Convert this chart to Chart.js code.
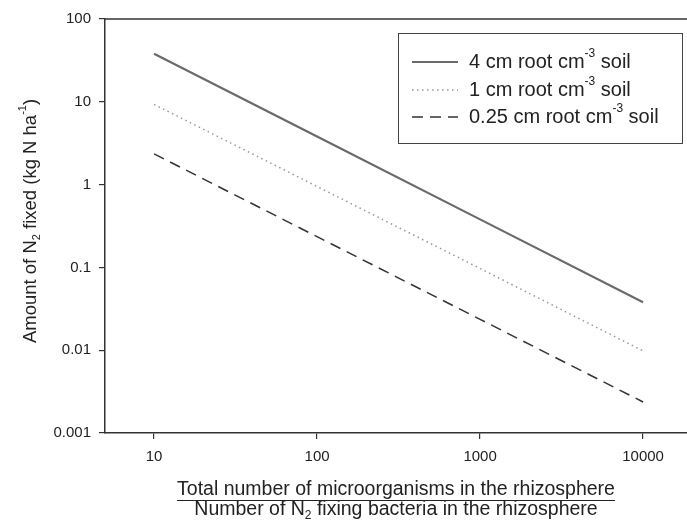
<!DOCTYPE html>
<html>
<head>
<meta charset="utf-8">
<script src="https://cdn.jsdelivr.net/npm/chart.js@4"></script>
<style>
  html, body { margin: 0; padding: 0; background: #fff; }
  canvas { display: block; }
</style>
</head>
<body>
<canvas id="chart" width="687" height="524"></canvas>
<script>
// values (log-log, slope about -1)
const xValues = [10, 100, 1000, 10000];
const root4 = [38, 3.8, 0.38, 0.038];
const root1 = [9.3, 0.95, 0.097, 0.0098];
const root025 = [2.35, 0.235, 0.0236, 0.00237];
const xTicks = [10, 100, 1000, 10000];
const yTicks = [0.001, 0.01, 0.1, 1, 10, 100];
const seriesLabels = [
  "4 cm root cm^{-3} soil",
  "1 cm root cm^{-3} soil",
  "0.25 cm root cm^{-3} soil",
];
const yTitle = "Amount of N_{2} fixed (kg N ha^{-1})";
const xTitleTop = "Total number of microorganisms in the rhizosphere";
const xTitleBottom = "Number of N_{2} fixing bacteria in the rhizosphere";

const FONT = "'Liberation Sans', Arial, sans-serif";
const INK = "#222";

function parseRich(str) {
  const parts = [];
  const re = /([\^_])\{([^}]*)\}/g;
  let last = 0;
  let m;
  while ((m = re.exec(str))) {
    if (m.index > last) parts.push({ text: str.slice(last, m.index), mode: "n" });
    parts.push({ text: m[2], mode: m[1] === "^" ? "sup" : "sub" });
    last = re.lastIndex;
  }
  if (last < str.length) parts.push({ text: str.slice(last), mode: "n" });
  return parts;
}

// draws text with ^{sup} and _{sub}; returns [startX, endX]
function drawRich(ctx, str, x, y, size, align) {
  const parts = parseRich(str);
  const small = Math.round(size * 0.62);
  let total = 0;
  parts.forEach((p) => {
    ctx.font = `${p.mode === "n" ? size : small}px ${FONT}`;
    p.w = ctx.measureText(p.text).width;
    total += p.w;
  });
  let cx = align === "center" ? x - total / 2 : x;
  const start = cx;
  ctx.textAlign = "left";
  ctx.textBaseline = "middle";
  parts.forEach((p) => {
    ctx.font = `${p.mode === "n" ? size : small}px ${FONT}`;
    let dy = 0;
    if (p.mode === "sup") dy = -size * 0.42;
    if (p.mode === "sub") dy = size * 0.3;
    ctx.fillText(p.text, cx, y + dy);
    cx += p.w;
  });
  return [start, cx];
}

const decorPlugin = {
  id: "decor",
  afterDraw(chart) {
    const { ctx, chartArea } = chart;
    ctx.save();
    // top frame line
    ctx.strokeStyle = "#333";
    ctx.lineWidth = 1.5;
    ctx.beginPath();
    ctx.moveTo(chartArea.left, chartArea.top);
    ctx.lineTo(chartArea.right, chartArea.top);
    ctx.stroke();

    ctx.fillStyle = INK;
    // y title
    ctx.save();
    ctx.translate(31, 221);
    ctx.rotate(-Math.PI / 2);
    drawRich(ctx, yTitle, 0, 0, 18.5, "center");
    ctx.restore();

    // x title, first line underlined like a fraction
    const cx = (chartArea.left + chartArea.right) / 2;
    const [s, e] = drawRich(ctx, xTitleTop, cx, 490, 19.5, "center");
    ctx.strokeStyle = INK;
    ctx.lineWidth = 1;
    ctx.beginPath();
    ctx.moveTo(s, 500.5);
    ctx.lineTo(e, 500.5);
    ctx.stroke();
    drawRich(ctx, xTitleBottom, cx, 510, 19.5, "center");

    // legend box
    const bx = 398, by = 33, bw = 284, bh = 110;
    ctx.fillStyle = "#fff";
    ctx.fillRect(bx, by, bw, bh);
    ctx.strokeStyle = "#444";
    ctx.lineWidth = 1;
    ctx.strokeRect(bx + 0.5, by + 0.5, bw, bh);
    const rows = [62, 90, 117];
    chart.data.datasets.forEach((ds, i) => {
      const ry = rows[i];
      ctx.strokeStyle = ds.borderColor;
      ctx.lineWidth = ds.borderWidth;
      ctx.setLineDash(ds.borderDash || []);
      ctx.beginPath();
      ctx.moveTo(412, ry);
      ctx.lineTo(458, ry);
      ctx.stroke();
      ctx.setLineDash([]);
      ctx.fillStyle = INK;
      drawRich(ctx, ds.label, 469, ry, 20, "left");
    });
    ctx.restore();
  },
};

const toPoints = (ys) => xValues.map((x, i) => ({ x, y: ys[i] }));

new Chart(document.getElementById("chart"), {
  type: "line",
  data: {
    datasets: [
      {
        label: seriesLabels[0],
        data: toPoints(root4),
        borderColor: "#6a6a6a",
        borderWidth: 2.2,
        pointRadius: 0,
      },
      {
        label: seriesLabels[1],
        data: toPoints(root1),
        borderColor: "#999",
        borderWidth: 1.5,
        borderDash: [1.5, 3.5],
        pointRadius: 0,
      },
      {
        label: seriesLabels[2],
        data: toPoints(root025),
        borderColor: "#333",
        borderWidth: 1.5,
        borderDash: [11, 7],
        pointRadius: 0,
      },
    ],
  },
  options: {
    responsive: false,
    animation: false,
    layout: { padding: { top: 19, right: 0, left: 0, bottom: 0 } },
    plugins: { legend: { display: false }, tooltip: { enabled: false } },
    scales: {
      x: {
        type: "logarithmic",
        min: 5,
        max: 18600,
        afterBuildTicks: (scale) => {
          scale.ticks = xTicks.map((v) => ({ value: v }));
        },
        afterFit: (scale) => {
          scale.height = 91;
        },
        grid: { drawOnChartArea: false, drawTicks: true, tickLength: 6, color: "#333", lineWidth: 1.2 },
        border: { display: true, color: "#333", width: 1.5 },
        ticks: {
          color: INK,
          font: { family: FONT, size: 15 },
          padding: 9,
          maxRotation: 0,
          autoSkip: false,
          callback: (v) => String(v),
        },
      },
      y: {
        type: "logarithmic",
        min: 0.001,
        max: 100,
        afterBuildTicks: (scale) => {
          scale.ticks = yTicks.map((v) => ({ value: v }));
        },
        afterFit: (scale) => {
          scale.width = 105;
        },
        grid: { drawOnChartArea: false, drawTicks: true, tickLength: 6, color: "#333", lineWidth: 1.2 },
        border: { display: true, color: "#333", width: 1.5 },
        ticks: {
          color: INK,
          font: { family: FONT, size: 15 },
          padding: 8,
          autoSkip: false,
          callback: (v) => String(v),
        },
      },
    },
  },
  plugins: [decorPlugin],
});
</script>
</body>
</html>
